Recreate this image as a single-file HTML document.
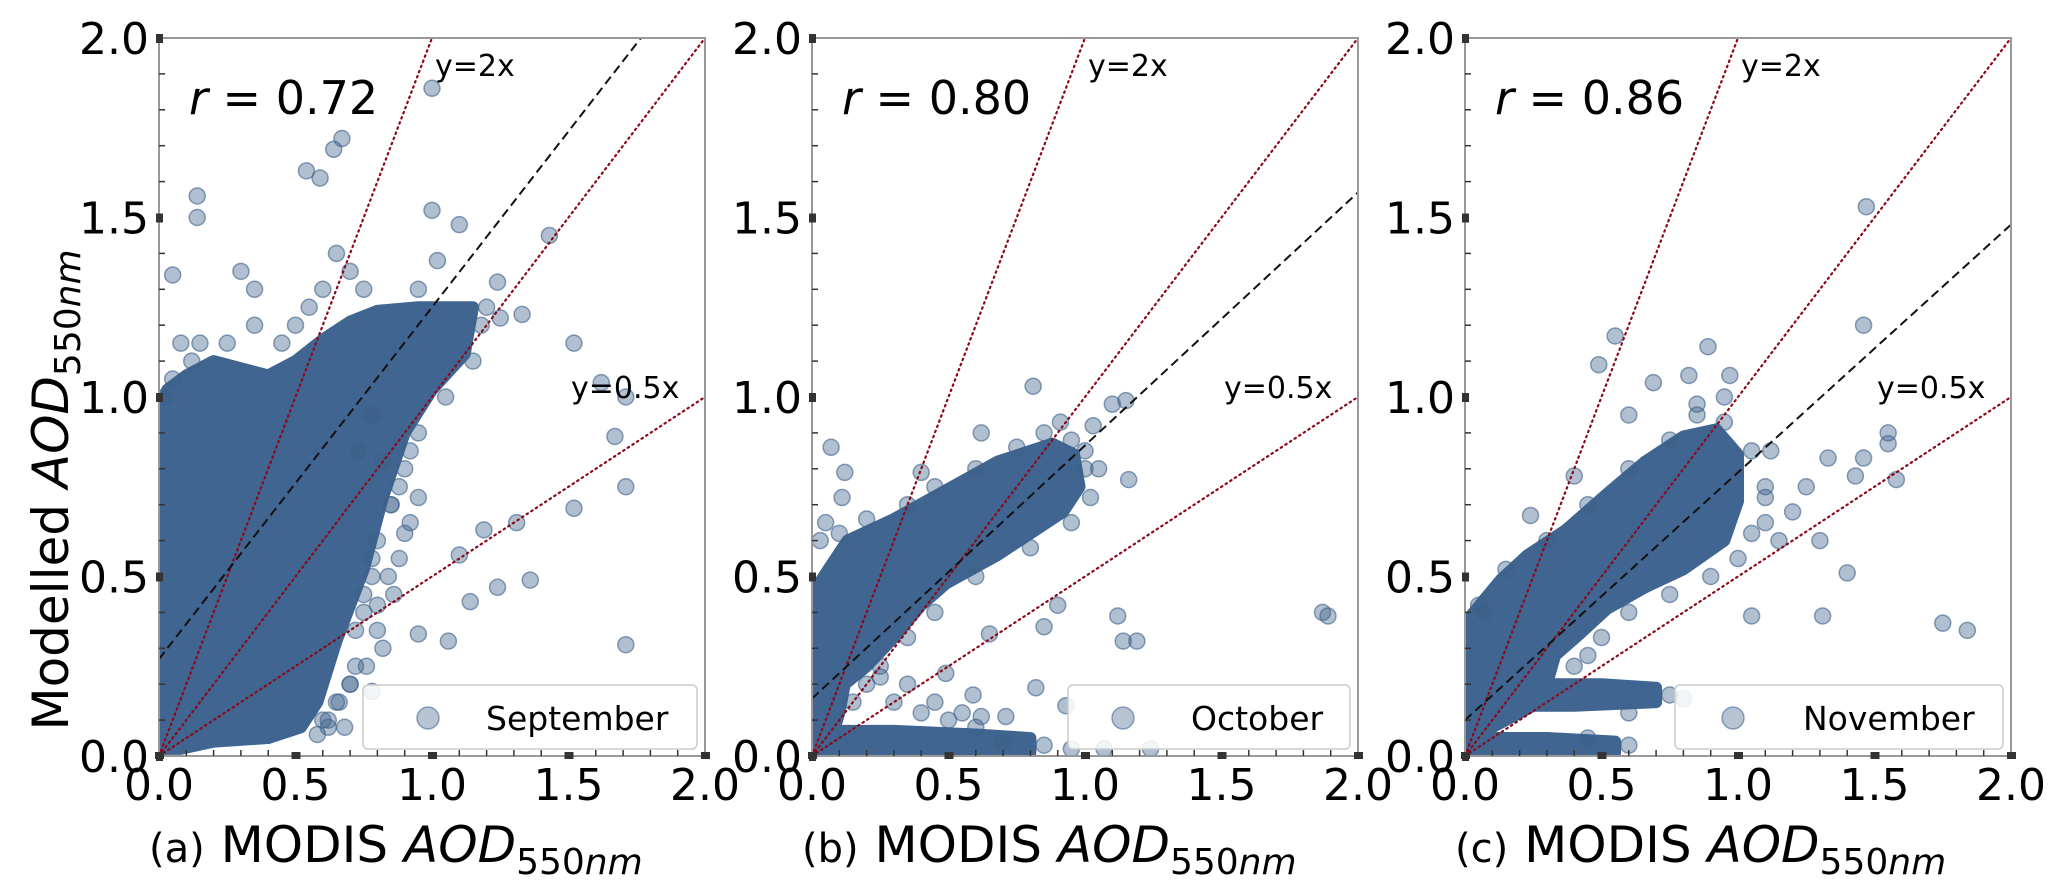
<!DOCTYPE html>
<html><head><meta charset="utf-8"><style>
html,body{margin:0;padding:0;background:#fff;}
svg{display:block;font-family:"DejaVu Sans","Liberation Sans",sans-serif;}
</style></head><body>
<svg id="fig" width="2067" height="885" viewBox="0 0 2067 885" xmlns="http://www.w3.org/2000/svg">
<text transform="translate(68,490) rotate(-90)" text-anchor="middle" font-size="50">Modelled <tspan font-style="italic">AOD</tspan><tspan font-size="36" dy="12">550<tspan font-style="italic">nm</tspan></tspan></text>
</svg>
<script>
const NS='http://www.w3.org/2000/svg';
const svg=document.getElementById('fig');
const panelNames=['September','October','November'];
const panelLetters=['(a)','(b)','(c)'];
const rValues=['0.72','0.80','0.86'];
const fitIntercepts=[0.27,0.16,0.10];
const fitSlopes=[0.98,0.705,0.69];
const refSlopes=[2,1,0.5];
const tickValues=[0,0.5,1.0,1.5,2.0];
const tickLabels=['0.0','0.5','1.0','1.5','2.0'];
const denseA=[[0,0.02],[0,0.95],[0.03,1.02],[0.1,1.06],[0.2,1.1],[0.3,1.08],[0.4,1.06],[0.5,1.1],[0.6,1.16],[0.7,1.21],[0.8,1.24],[0.95,1.25],[1.15,1.25],[1.12,1.12],[1.0,1.02],[0.9,0.9],[0.82,0.72],[0.75,0.52],[0.65,0.32],[0.58,0.15],[0.52,0.08],[0.4,0.05],[0.2,0.04],[0.08,0.02]];
const denseB=[[0,0.02],[0,0.45],[0.06,0.52],[0.13,0.6],[0.3,0.66],[0.49,0.74],[0.68,0.82],[0.88,0.87],[0.96,0.84],[0.98,0.75],[0.92,0.68],[0.68,0.56],[0.49,0.48],[0.4,0.42],[0.3,0.33],[0.2,0.25],[0.12,0.2],[0.1,0.12],[0.08,0.07],[0.04,0.02]];
const stripB=[[0,0.0],[0,0.07],[0.3,0.07],[0.6,0.06],[0.8,0.05],[0.8,0.01],[0,0.01]];
const denseC=[[0,0.04],[0.01,0.38],[0.13,0.49],[0.23,0.56],[0.37,0.63],[0.52,0.73],[0.66,0.82],[0.8,0.89],[0.92,0.91],[1.0,0.84],[1.0,0.71],[0.95,0.6],[0.8,0.52],[0.66,0.47],[0.52,0.41],[0.42,0.34],[0.33,0.28],[0.3,0.2],[0.25,0.14],[0.15,0.1],[0.05,0.06]];
const stripC1=[[0.25,0.14],[0.25,0.2],[0.5,0.2],[0.7,0.19],[0.7,0.15],[0.4,0.14]];
const stripC2=[[0,0.01],[0,0.05],[0.3,0.05],[0.55,0.04],[0.55,0.01]];
const ptsAx=[1.0,0.67,0.64,0.59,0.54,0.14,0.14,1.0,1.1,1.43,1.24,1.33,1.52,1.62,1.71,1.67,1.71,1.52,1.31,1.19,1.36,1.24,1.14,1.06,1.71,1.1,0.86,0.95,0.8,0.85,0.9,0.78,0.75,0.82,0.88,0.92,0.7,0.66,0.6,0.62,0.3,0.35,1.02,0.95,0.05,0.08,0.72,0.78,
  0.72,0.75,0.78,0.8,0.84,0.76,0.7,0.65,0.62,0.58,0.68,0.85,0.88,0.92,0.95,1.05,1.15,1.18,1.2,1.25,0.75,0.7,0.65,0.6,0.55,0.5,0.45,0.35,0.25,0.15,0.12,0.05,0.02,0.8,0.9,0.95,0.82,0.78,0.73];
const ptsAy=[1.86,1.72,1.69,1.61,1.63,1.56,1.5,1.52,1.48,1.45,1.32,1.23,1.15,1.04,1.0,0.89,0.75,0.69,0.65,0.63,0.49,0.47,0.43,0.32,0.31,0.56,0.45,0.34,0.6,0.7,0.8,0.5,0.4,0.3,0.55,0.65,0.2,0.15,0.1,0.08,1.35,1.3,1.38,1.3,1.34,1.15,0.25,0.18,
  0.35,0.45,0.55,0.42,0.5,0.25,0.2,0.15,0.1,0.06,0.08,0.7,0.75,0.85,0.9,1.0,1.1,1.2,1.25,1.22,1.3,1.35,1.4,1.3,1.25,1.2,1.15,1.2,1.15,1.15,1.1,1.05,1.0,0.35,0.62,0.72,0.82,0.95,0.85];
const ptsBx=[0.81,1.1,1.15,1.03,0.91,0.62,0.07,0.12,0.4,1.16,0.11,1.12,1.14,1.19,1.87,1.89,0.85,0.9,0.82,0.93,0.49,0.59,0.62,0.71,1.24,1.07,0.65,1.0,1.05,0.35,0.45,0.55,0.25,
  0.1,0.2,0.35,0.45,0.6,0.75,0.85,0.95,1.0,1.02,0.95,0.8,0.6,0.45,0.35,0.25,0.2,0.15,0.3,0.4,0.5,0.6,0.7,0.85,0.95,0.03,0.05];
const ptsBy=[1.03,0.98,0.99,0.92,0.93,0.9,0.86,0.79,0.79,0.77,0.72,0.39,0.32,0.32,0.40,0.39,0.36,0.42,0.19,0.14,0.23,0.17,0.11,0.11,0.02,0.02,0.34,0.85,0.8,0.2,0.15,0.12,0.22,
  0.62,0.66,0.7,0.75,0.8,0.86,0.9,0.88,0.8,0.72,0.65,0.58,0.5,0.4,0.33,0.25,0.2,0.15,0.15,0.12,0.1,0.08,0.04,0.03,0.02,0.6,0.65];
const ptsCx=[1.47,1.46,0.55,0.49,0.89,0.82,0.97,0.69,0.24,0.07,1.4,1.31,1.75,1.84,1.05,1.55,1.55,1.58,1.46,1.43,1.33,1.25,1.2,1.1,0.6,0.4,1.12,1.3,0.85,0.95,
  0.05,0.15,0.3,0.45,0.6,0.75,0.85,0.95,1.05,1.1,1.05,1.0,0.9,0.75,0.6,0.5,0.45,0.75,0.8,0.6,0.45,0.6,0.4,1.1,1.15];
const ptsCy=[1.53,1.2,1.17,1.09,1.14,1.06,1.06,1.04,0.67,0.4,0.51,0.39,0.37,0.35,0.39,0.9,0.87,0.77,0.83,0.78,0.83,0.75,0.68,0.72,0.95,0.78,0.85,0.6,0.98,1.0,
  0.42,0.52,0.6,0.7,0.8,0.88,0.95,0.93,0.85,0.75,0.62,0.55,0.5,0.45,0.4,0.33,0.28,0.17,0.16,0.12,0.05,0.03,0.25,0.65,0.6];
const denseSets=[[denseA],[denseB,stripB],[denseC,stripC1,stripC2]];
const ptX=[ptsAx,ptsBx,ptsCx];
const ptY=[ptsAy,ptsBy,ptsCy];

const lefts=[159,812,1465], W=546, TOP=38, BOT=756;
function mk(tag,attrs,parent){const e=document.createElementNS(NS,tag);for(const k in attrs)e.setAttribute(k,attrs[k]);(parent||svg).appendChild(e);return e;}

for(let p=0;p<3;p++){
  const L=lefts[p];
  const sx=v=>L+v/2*W, sy=v=>BOT-v/2*(BOT-TOP);
  const g=mk('g',{});
  
  
  const cp=mk('clipPath',{id:'cp'+p},g);
  mk('rect',{x:L,y:TOP,width:W,height:BOT-TOP},cp);
  const plot=mk('g',{'clip-path':'url(#cp'+p+')'},g);
  denseSets[p].forEach((poly,i)=>{
    const pg=mk('polygon',{points:poly.map(q=>sx(q[0])+','+sy(q[1])).join(' '),fill:'#3f6590',stroke:'#3f6590','stroke-width':12,'stroke-linejoin':'round'},plot);
    
    
  });
  ptX[p].forEach((x,i)=>{
    const c=mk('circle',{cx:sx(x),cy:sy(ptY[p][i]),r:8,fill:'rgba(61,97,137,0.4)',stroke:'rgba(61,97,137,0.6)','stroke-width':1.5},plot);
    
    
  });
  refSlopes.forEach(s=>{
    const xe=Math.min(2,2/s);
    const ln=mk('line',{x1:sx(0),y1:sy(0),x2:sx(xe),y2:sy(xe*s),stroke:'#8b0a1a','stroke-width':2.2,'stroke-dasharray':'1.5,4','stroke-linecap':'round'},plot);
    
    
  });
  const a=fitIntercepts[p], b=fitSlopes[p];
  const xe=Math.min(2,(2-a)/b);
  const fl=mk('line',{x1:sx(0),y1:sy(a),x2:sx(xe),y2:sy(a+b*xe),stroke:'#111','stroke-width':2,'stroke-dasharray':'9,5'},plot);
  
  
  const sp=mk('rect',{x:L,y:TOP,width:W,height:BOT-TOP,fill:'none',stroke:'#999','stroke-width':2},g);
  
  
  for(let k=1;k<20;k++){
    if(k%5===0)continue;
    const v=k/10;
    mk('line',{x1:sx(v),y1:BOT,x2:sx(v),y2:BOT-6,stroke:'#333','stroke-width':1.5},g);
    mk('line',{x1:L,y1:sy(v),x2:L+6,y2:sy(v),stroke:'#333','stroke-width':1.5},g);
  }
  tickValues.forEach((v,i)=>{
    mk('rect',{x:sx(v)-4,y:BOT-4,width:9,height:7,fill:'#333'},g);
    mk('rect',{x:L-3,y:sy(v)-4,width:7,height:9,fill:'#333'},g);
    const tx=mk('text',{x:sx(v),y:800,'text-anchor':'middle','font-size':44},g);
    tx.textContent=tickLabels[i];
    
    
    const ty=mk('text',{x:L-10,y:sy(v)+16,'text-anchor':'end','font-size':44},g);
    ty.textContent=tickLabels[i];
    
    
  });
  const rt=mk('text',{x:L+30,y:114,'font-size':46},g);
  rt.innerHTML='<tspan font-style="italic">r</tspan> = '+rValues[p];
  
  
  const t2=mk('text',{x:L+276,y:76,'font-size':30},g);
  t2.textContent='y=2x';
  
  
  const t5=mk('text',{x:L+412,y:398,'font-size':30},g);
  t5.textContent='y=0.5x';
  
  
  const lw=[334,282,328][p], lx=L+W-8-lw;
  const lg=mk('g',{},g);
  
  
  mk('rect',{x:lx,y:685,width:lw,height:64,rx:5,fill:'rgba(255,255,255,0.85)',stroke:'#ccc','stroke-width':1.5},lg);
  mk('circle',{cx:[L+269,L+311,L+268][p],cy:718,r:11,fill:'rgba(61,97,137,0.38)',stroke:'rgba(61,97,137,0.55)','stroke-width':1.5},lg);
  const lt=mk('text',{x:[L+327,L+379,L+338][p],y:730,'font-size':33},lg);
  lt.textContent=panelNames[p];
  
  
  const cap=mk('text',{x:L-10,y:862,'font-size':50},g);
  cap.innerHTML='<tspan font-size="40">'+panelLetters[p]+'</tspan> MODIS <tspan font-style="italic">AOD</tspan><tspan font-size="36" dy="12">550<tspan font-style="italic">nm</tspan></tspan>';
  
  
}
</script>
</body></html>
